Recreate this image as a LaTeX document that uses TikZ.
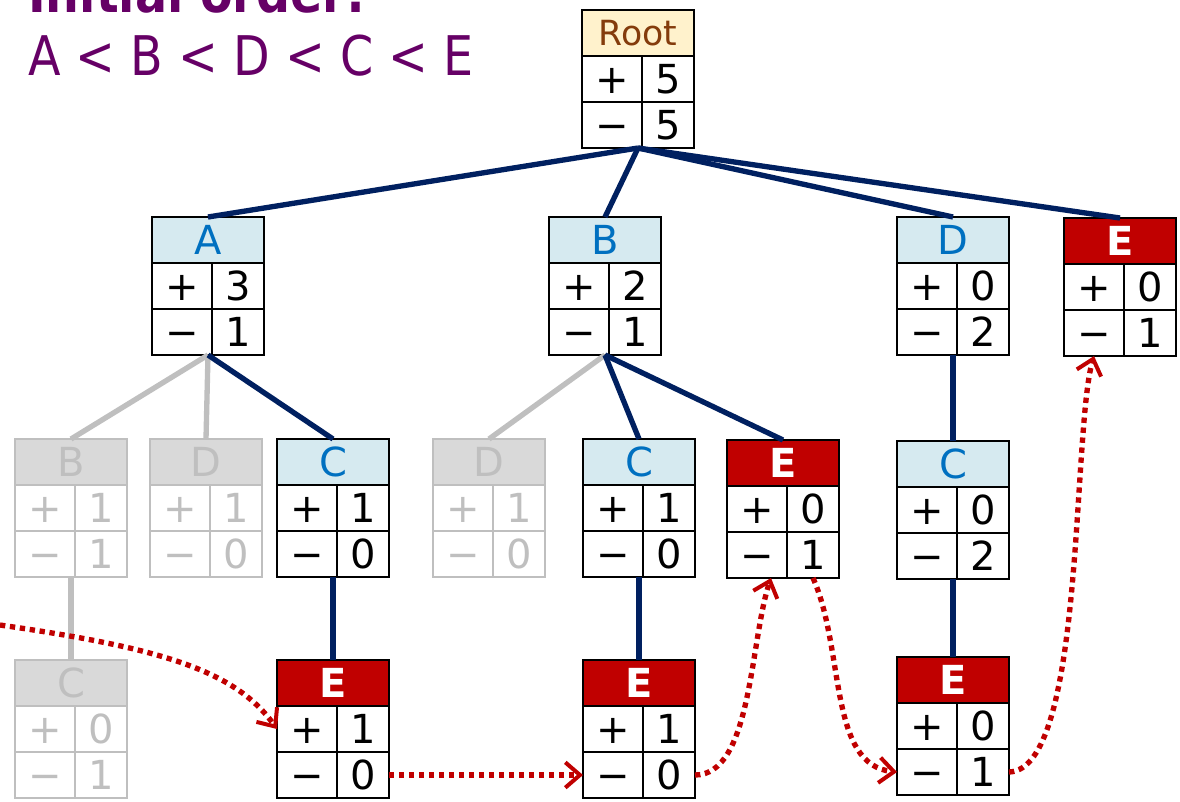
\documentclass[tikz,border=0pt]{standalone}
\usepackage{fontspec}
\setmainfont{DejaVu Sans}
\newfontfamily\titlefont[FakeStretch=0.87]{DejaVu Sans}
\usetikzlibrary{arrows.meta}

\definecolor{navy}{HTML}{002060}
\definecolor{lgray}{HTML}{BFBFBF}
\definecolor{hgray}{HTML}{D9D9D9}
\definecolor{dred}{HTML}{C00000}
\definecolor{lblue}{HTML}{D6EAF0}
\definecolor{tblue}{HTML}{0070C0}
\definecolor{cream}{HTML}{FFF2CC}
\definecolor{brown}{HTML}{843C0C}
\definecolor{purp}{HTML}{660066}

\tikzset{
	hdr/.style={draw, line width=2.1pt, minimum width=84pt, minimum height=34.5pt, outer sep=0pt,
		inner sep=0pt, text height=21.5pt, text depth=0pt, font=\fontsize{30}{30}\selectfont},
	lcell/.style={draw, line width=2.1pt, fill=white, minimum width=45pt, minimum height=34.5pt, outer sep=0pt,
		inner sep=0pt, text height=21.5pt, text depth=0pt, font=\fontsize{30}{30}\selectfont},
	rcell/.style={lcell, minimum width=39pt},
	rooth/.style={fill=cream, text=brown, font=\fontsize{26}{26}\selectfont, text height=19pt},
	rootc/.style={},
	bluh/.style={fill=lblue, text=tblue},
	bluc/.style={},
	redh/.style={fill=dred, text=white, font=\fontsize{30}{30}\selectfont\bfseries},
	redc/.style={},
	gryh/.style={fill=hgray, draw=lgray, text=lgray},
	gryc/.style={draw=lgray, text=lgray},
	tedge/.style={navy, line width=4pt},
	gedge/.style={lgray, line width=4pt},
	redarr/.style={dred, line width=4pt, dash pattern=on 4pt off 3.5pt,
		-{Straight Barb[length=11pt,width=19pt,line width=3pt]}},
}

% name, x, y, style, label, plus, minus
\newcommand{\cntbox}[7]{%
	\node[hdr,#4h,anchor=north west] (#1) at (#2,#3) {#5};
	\node[lcell,#4c,anchor=north west] (#1p) at (#1.south west) {+};
	\node[rcell,#4c,anchor=north west] (#1pv) at (#1p.north east) {#6};
	\node[lcell,#4c,anchor=north west] (#1m) at (#1p.south west) {−};
	\node[rcell,#4c,anchor=north west] (#1mv) at (#1m.north east) {#7};
	\coordinate (#1b) at (#1.south |- #1m.south);
}

\begin{document}
\begin{tikzpicture}[x=0.75pt, y=-0.75pt]
	\useasboundingbox (0,0) rectangle (1180,801);

	% title
	\node[anchor=base west, inner sep=0pt, text=purp, font=\titlefont\fontsize{41}{41}\selectfont\bfseries]
		(ttl) at (28,12) {Initial order:};
	\node[anchor=base west, inner sep=0pt, text=purp, font=\titlefont\fontsize{41}{41}\selectfont]
		(ord) at (28,75) {A < B < D < C < E};

	% level 0 and 1
	\cntbox{Root}{582}{10}{root}{Root}{5}{5}
	\cntbox{A}{152}{217}{blu}{A}{3}{1}
	\cntbox{B}{549}{217}{blu}{B}{2}{1}
	\cntbox{D}{897}{217}{blu}{D}{0}{2}
	\cntbox{Ea}{1064}{218}{red}{E}{0}{1}

	% level 2
	\cntbox{Bg}{15}{439}{gry}{B}{1}{1}
	\cntbox{Dg}{150}{439}{gry}{D}{1}{0}
	\cntbox{Ca}{277}{439}{blu}{C}{1}{0}
	\cntbox{Dh}{433}{439}{gry}{D}{1}{0}
	\cntbox{Cb}{583}{439}{blu}{C}{1}{0}
	\cntbox{Eb}{727}{440}{red}{E}{0}{1}
	\cntbox{Cd}{897}{441}{blu}{C}{0}{2}

	% level 3
	\cntbox{Cg}{15}{660}{gry}{C}{0}{1}
	\cntbox{Ec}{277}{660}{red}{E}{1}{0}
	\cntbox{Ed}{583}{660}{red}{E}{1}{0}
	\cntbox{Ee}{897}{657}{red}{E}{0}{1}

	% tree edges
	\draw[tedge] (Rootb) -- (A.north);
	\draw[tedge] (Rootb) -- (B.north);
	\draw[tedge] (Rootb) -- (D.north);
	\draw[tedge] (Rootb) -- (Ea.north);
	\draw[gedge] (Ab) -- (Bg.north);
	\draw[gedge] (Ab) -- (Dg.north);
	\draw[tedge] (Ab) -- (Ca.north);
	\draw[gedge] (Bb) -- (Dh.north);
	\draw[tedge] (Bb) -- (Cb.north);
	\draw[tedge] (Bb) -- (Eb.north);
	\draw[tedge] (Db) -- (Cd.north);
	\draw[gedge] (Bgb) -- (Cg.north);
	\draw[tedge] (Cab) -- (Ec.north);
	\draw[tedge] (Cbb) -- (Ed.north);
	\draw[tedge] (Cdb) -- (Ee.north);

	% order links
	\coordinate (in) at (0,625);
	\draw[redarr] (in) .. controls (160,648) and (235,670) .. (Ecp.west);
	\draw[redarr] (Ecmv.east) -- (Edm.west);
	\draw[redarr] (Edmv.east) .. controls (752,775) and (750,640) .. ([xshift=-12pt]Ebm.south east);
	\draw[redarr] (Ebmv.south) .. controls (845,650) and (828,765) .. (Eem.west);
	\draw[redarr] (Eemv.east) .. controls (1085,770) and (1072,430) .. (Eam.south);
\end{tikzpicture}
\end{document}
